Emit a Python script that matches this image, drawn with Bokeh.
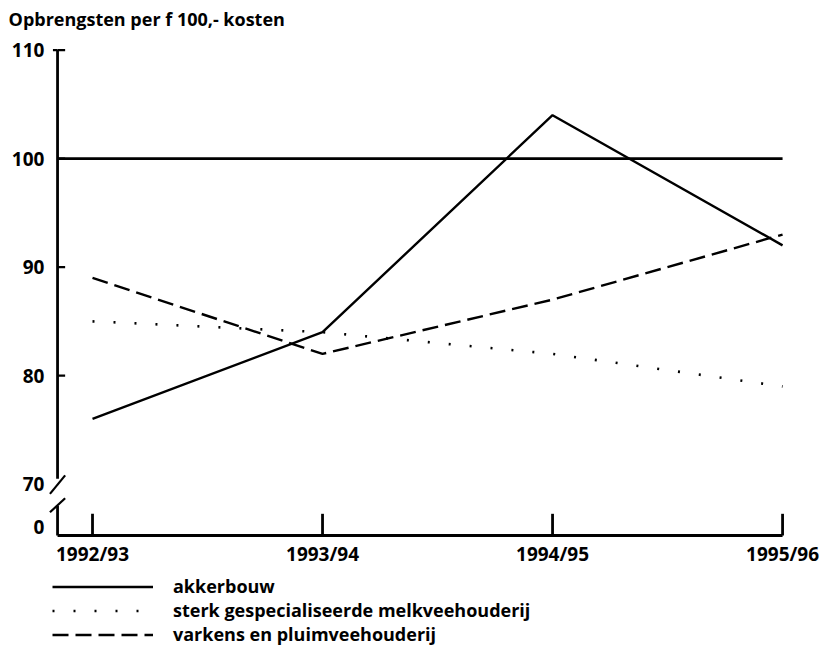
from bokeh.plotting import figure
from bokeh.models import Legend, LegendItem, Range1d, ColumnDataSource
from bokeh.core.properties import value
from bokeh.embed import file_html
from bokeh.resources import INLINE

# ---- data ----
categories = ["1992/93", "1993/94", "1994/95", "1995/96"]
akkerbouw = [76, 84, 104, 92]
melkvee = [85, 84, 82, 79]
varkens = [89, 82, 87, 93]
series_names = ["akkerbouw",
                "sterk gespecialiseerde melkveehouderij",
                "varkens en pluimveehouderij"]
y_ticks = [70, 80, 90, 100, 110]
y_zero_label = "0"
reference_level = 100
title_text = "Opbrengsten per f 100,- kosten"

# ---- styling / layout constants ----
FONT = "Open Sans"
FS = "18px"
FS_TICK = "19px"
X_START, X_END = -0.4, 3.191
Y_START, Y_END = 55.03, 114.57
AXIS_X = -0.152          # position of the drawn y axis
AXIS_Y = 65.26           # position of the drawn x axis
ZERO_POS = 66            # where the "0" label sits below the break
XLABEL_Y = 63.6
YLABEL_X = -0.209
TITLE_X, TITLE_Y = -0.365, 112.82
BREAK_TOP = 70.5
BREAK_BOT = 68.0
SL_DX = 0.033
LW_AXIS = 2.8
LW_DATA = 2.4

x = list(range(len(categories)))

p = figure(width=826, height=646, output_backend="svg", toolbar_location=None,
           x_range=Range1d(X_START, X_END), y_range=Range1d(Y_START, Y_END),
           min_border=0)
p.outline_line_color = None
p.grid.grid_line_color = None
p.background_fill_color = "white"
p.xaxis.visible = False
p.yaxis.visible = False

txt = dict(text_font=value(FONT), text_font_style="bold", text_color="black",
           text_baseline="middle")

# title
p.text(x=[TITLE_X], y=[TITLE_Y], text=[title_text], text_font_size=FS,
       text_align="left", **txt)

# y tick labels
y_label_pos = [ZERO_POS] + y_ticks
y_label_txt = [y_zero_label] + [str(v) for v in y_ticks]
p.text(x=[YLABEL_X] * len(y_label_pos), y=y_label_pos, text=y_label_txt,
       text_font_size=FS_TICK, text_align="right", **txt)

# x tick labels
p.text(x=x, y=[XLABEL_Y] * len(x), text=categories, text_font_size=FS_TICK,
       text_align="center", **txt)

# drawn axes with break
p.segment(x0=[AXIS_X, AXIS_X], y0=[y_ticks[-1], BREAK_BOT],
          x1=[AXIS_X, AXIS_X], y1=[BREAK_TOP, AXIS_Y],
          line_color="black", line_width=LW_AXIS)
p.segment(x0=[AXIS_X - SL_DX, AXIS_X - SL_DX], y0=[69.1, 67.4],
          x1=[AXIS_X + SL_DX, AXIS_X + SL_DX], y1=[70.8, 68.7],
          line_color="black", line_width=2.2)
p.segment(x0=[AXIS_X] * 4, y0=y_ticks[1:], x1=[AXIS_X + 0.033] * 4,
          y1=y_ticks[1:], line_color="black", line_width=2.2)
p.segment(x0=[AXIS_X - 0.02], y0=[y_ticks[-1]], x1=[AXIS_X], y1=[y_ticks[-1]],
          line_color="black", line_width=2.2)
p.segment(x0=[AXIS_X], y0=[AXIS_Y], x1=[x[-1]], y1=[AXIS_Y],
          line_color="black", line_width=LW_AXIS)
p.segment(x0=x, y0=[AXIS_Y] * len(x), x1=x, y1=[AXIS_Y + 2.0] * len(x),
          line_color="black", line_width=LW_AXIS)

# reference line at 100
p.segment(x0=[AXIS_X], y0=[reference_level], x1=[x[-1]], y1=[reference_level],
          line_color="black", line_width=LW_AXIS)

src = ColumnDataSource(dict(x=x, a=akkerbouw, m=melkvee, v=varkens))
r1 = p.line("x", "a", source=src, line_color="black", line_width=LW_DATA)
r2 = p.line("x", "m", source=src, line_color="black", line_width=2.6,
            line_dash="2 19")
r3 = p.line("x", "v", source=src, line_color="black", line_width=LW_DATA,
            line_dash="16 7")

legend = Legend(items=[LegendItem(label=series_names[0], renderers=[r1]),
                       LegendItem(label=series_names[1], renderers=[r2]),
                       LegendItem(label=series_names[2], renderers=[r3])],
                location=(52, 0), orientation="vertical",
                glyph_width=101, glyph_height=23, label_height=23,
                label_standoff=20, spacing=0, padding=0, margin=0,
                border_line_color=None, background_fill_alpha=0,
                label_text_font=FONT, label_text_font_size=FS,
                label_text_font_style="bold", label_text_color="black")
p.add_layout(legend)

open("out.html", "w").write(file_html(p, INLINE))
